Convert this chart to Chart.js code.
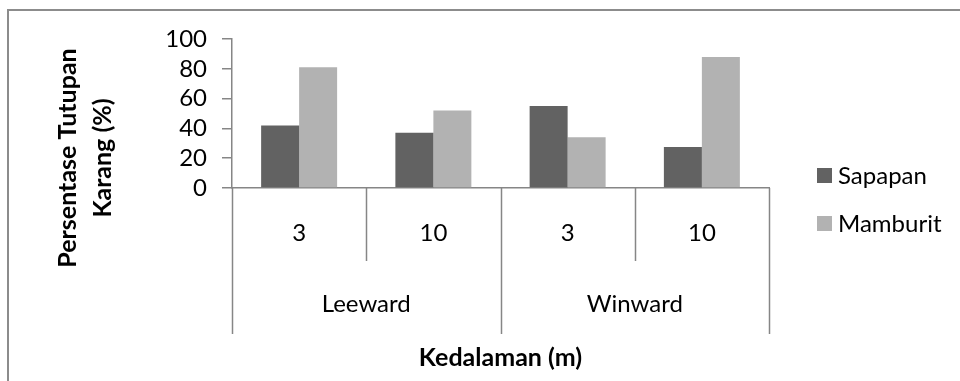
<!DOCTYPE html>
<html>
<head>
<meta charset="utf-8">
<script src="https://cdn.jsdelivr.net/npm/chart.js@4.4.1/dist/chart.umd.min.js"></script>
<style>
  html, body { margin: 0; padding: 0; background: #ffffff; }
  #wrap { width: 960px; height: 381px; position: relative; }
</style>
</head>
<body>
<div id="wrap"><canvas id="c" width="960" height="381"></canvas></div>
<script>
// Coral cover by depth and side of the island
const depths = ['3', '10', '3', '10'];
const sides = ['Leeward', 'Winward'];
const seriesNames = ['Sapapan', 'Mamburit'];
const sapapan = [42, 37, 55, 27.5];
const mamburit = [81, 52, 34, 88];
const yTicks = [0, 20, 40, 60, 80, 100];
const xTitle = 'Kedalaman (m)';
const yTitle = ['Persentase Tutupan', 'Karang (%)'];

const FONT = 'Lato, "Open Sans", sans-serif';
const TEXT_SIZE = 24;
const TITLE_SIZE = 25;
const AXIS_GREY = '#868686';
const COLORS = ['#626262', '#b2b2b2'];

// Frame, grouped category labels, axis titles and legend
const decorations = {
  id: 'decorations',
  beforeDraw(chart) {
    const ctx = chart.ctx;
    ctx.save();
    ctx.strokeStyle = '#8c8c8c';
    ctx.lineWidth = 2;
    ctx.beginPath();
    ctx.moveTo(8, 400);
    ctx.lineTo(8, 10);
    ctx.lineTo(980, 10);
    ctx.stroke();
    ctx.restore();
  },
  afterDraw(chart) {
    const ctx = chart.ctx;
    const x = chart.scales.x;
    const area = chart.chartArea;
    const base = area.bottom;
    const shortEnd = 261, longEnd = 334;

    const centers = depths.map((_, i) => x.getPixelForValue(i));
    const bounds = [x.left];
    for (let i = 0; i < centers.length - 1; i++) bounds.push((centers[i] + centers[i + 1]) / 2);
    bounds.push(x.right);

    ctx.save();
    ctx.strokeStyle = AXIS_GREY;
    ctx.lineWidth = 1.5;
    bounds.forEach((bx, i) => {
      const end = (i % 2 === 0) ? longEnd : shortEnd;
      ctx.beginPath();
      ctx.moveTo(Math.round(bx) + 0.5, base);
      ctx.lineTo(Math.round(bx) + 0.5, end);
      ctx.stroke();
    });

    ctx.fillStyle = '#000000';
    ctx.textAlign = 'center';
    ctx.textBaseline = 'middle';
    ctx.font = TEXT_SIZE + 'px ' + FONT;
    depths.forEach((d, i) => ctx.fillText(d, centers[i], 233));
    sides.forEach((s, g) => {
      const cx = (bounds[g * 2] + bounds[g * 2 + 2]) / 2;
      ctx.fillText(s, cx, 304);
    });

    ctx.font = 'bold ' + TITLE_SIZE + 'px ' + FONT;
    ctx.fillText(xTitle, (x.left + x.right) / 2, 358);

    ctx.save();
    ctx.translate(68, 158);
    ctx.rotate(-Math.PI / 2);
    yTitle.forEach((line, i) => ctx.fillText(line, 0, i * 35));
    ctx.restore();

    ctx.font = TEXT_SIZE + 'px ' + FONT;
    ctx.textAlign = 'left';
    chart.data.datasets.forEach((ds, i) => {
      const cy = 175.5 + i * 48;
      ctx.fillStyle = ds.backgroundColor;
      ctx.fillRect(817, cy - 7.5, 15, 15);
      ctx.fillStyle = '#000000';
      ctx.fillText(ds.label, 838, cy + 1);
    });
    ctx.restore();
  }
};

new Chart(document.getElementById('c'), {
  type: 'bar',
  data: {
    labels: depths,
    datasets: [
      { label: seriesNames[0], data: sapapan, backgroundColor: COLORS[0] },
      { label: seriesNames[1], data: mamburit, backgroundColor: COLORS[1] }
    ]
  },
  options: {
    responsive: false,
    animation: false,
    devicePixelRatio: 1,
    layout: { padding: { top: 39, right: 191, bottom: 0, left: 0 } },
    datasets: { bar: { categoryPercentage: 0.566, barPercentage: 1.0, borderWidth: 0 } },
    plugins: { legend: { display: false }, tooltip: { enabled: false } },
    scales: {
      x: {
        ticks: { display: false },
        grid: { display: false },
        border: { display: true, color: AXIS_GREY, width: 1.5 },
        afterFit(s) { s.height = 193; }
      },
      y: {
        min: 0,
        max: 100,
        afterBuildTicks(s) { s.ticks = yTicks.map(v => ({ value: v })); },
        ticks: {
          color: '#000000',
          font: { family: FONT, size: TEXT_SIZE, lineHeight: 1 },
          padding: 15,
          autoSkip: false
        },
        grid: { drawOnChartArea: false, tickLength: 10, color: AXIS_GREY, lineWidth: 1.5 },
        border: { display: true, color: AXIS_GREY, width: 1.5 },
        afterFit(s) { s.width = 232; }
      }
    }
  },
  plugins: [decorations]
});
</script>
</body>
</html>
